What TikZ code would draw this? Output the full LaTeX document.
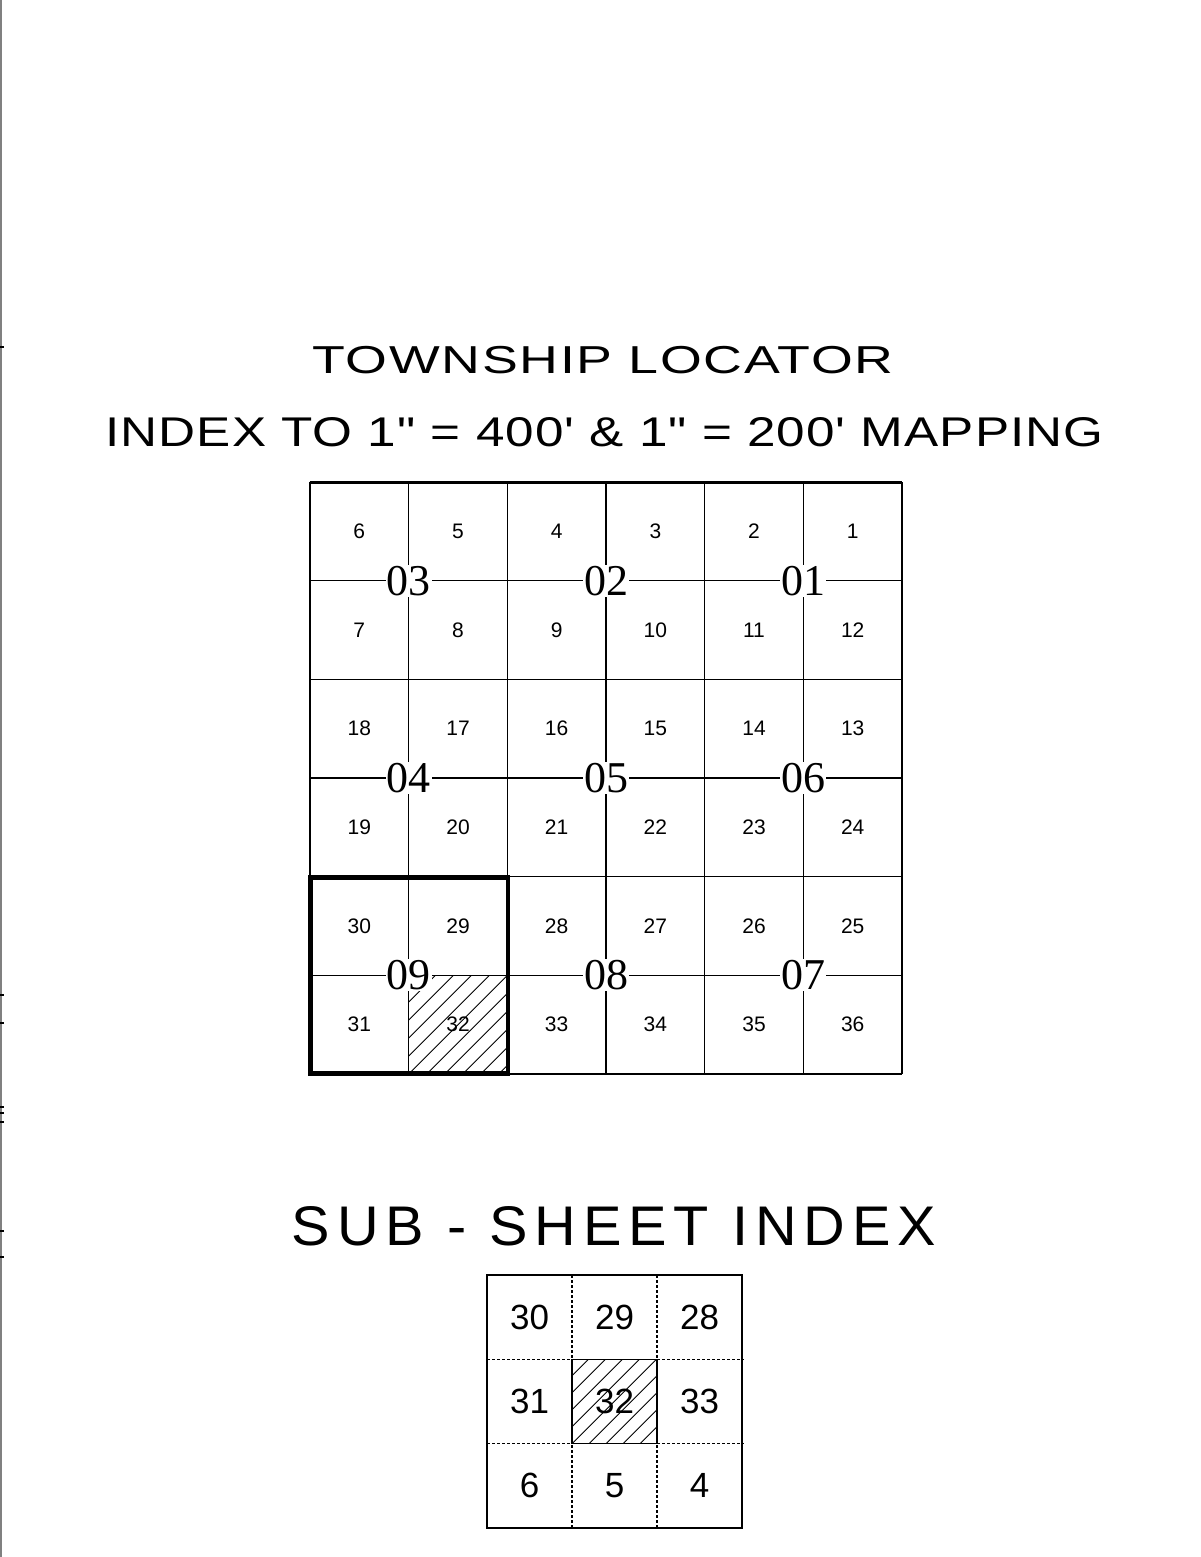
\documentclass[tikz,border=0pt]{standalone}
\usepackage{fontspec}
\usepackage{graphicx}
\newfontfamily\tsans{Liberation Sans}
\newfontfamily\tserif{Liberation Serif}
\begin{document}
\begin{tikzpicture}[x=0.5pt,y=-0.5pt,
  gridline/.style={line width=0.8pt},
  thickline/.style={line width=2.2pt},
  num/.style={font=\tsans\fontsize{10.5}{12}\selectfont, inner sep=0pt},
  subnum/.style={font=\tsans\fontsize{17.5}{20}\selectfont, inner sep=0pt},
  twp/.style={font=\tserif\fontsize{22}{24}\selectfont, fill=white, inner sep=0.5pt},
  hatchline/.style={line width=0.45pt},
  dotline/.style={line width=0.55pt, dash pattern=on 1.5pt off 1pt},
  title/.style={inner sep=0pt}]
\useasboundingbox (0,0) rectangle (1200,1557);
\fill[white] (0,0) rectangle (1200,1557);
% left edge
\draw[gray, line width=1pt] (1,0) -- (1,1557);
\foreach \yy in {347,995,1023,1107,1113,1122,1231,1257}
  \draw[line width=0.8pt] (0,\yy) -- (3.5,\yy);
% titles
\node[title] (t1) at (603,360) {\resizebox{290.5pt}{13.6pt}{\tsans\addfontfeature{LetterSpace=3}TOWNSHIP LOCATOR}};
\node[title] (t2) at (604.5,432.5) {\resizebox{499pt}{14.5pt}{\tsans\addfontfeature{LetterSpace=2}INDEX TO 1" = 400' \& 1" = 200' MAPPING}};
\node[title] (t3) at (614,1226.5) {\resizebox{322pt}{19.5pt}{\tsans\addfontfeature{LetterSpace=12}SUB - SHEET INDEX}};
% main grid
\foreach \i in {0,...,6}{
  \draw[gridline] ({310+\i*98.667},482) -- ({310+\i*98.667},1074);
  \draw[gridline] (310,{482+\i*98.667}) -- (902,{482+\i*98.667});
}
\draw[line width=1.5pt] (309.6,482) -- (902.4,482);
% hatch of section 32
\begin{scope}
  \clip (408.667,975.333) rectangle (507.333,1074);
  \foreach \a in {-108,-90,...,108}
    \draw[hatchline] ({408.667+\a},1074) -- ({408.667+\a+98.667},975.333);
\end{scope}
% section numbers
\foreach \n/\c/\r in {6/0/0,5/1/0,4/2/0,3/3/0,2/4/0,1/5/0,
  7/0/1,8/1/1,9/2/1,10/3/1,11/4/1,12/5/1,
  18/0/2,17/1/2,16/2/2,15/3/2,14/4/2,13/5/2,
  19/0/3,20/1/3,21/2/3,22/3/3,23/4/3,24/5/3,
  30/0/4,29/1/4,28/2/4,27/3/4,26/4/4,25/5/4,
  31/0/5,32/1/5,33/2/5,34/3/5,35/4/5,36/5/5}
  \node[num] (s\n) at ({310+(\c+0.5)*98.667},{482+(\r+0.5)*98.667}) {\n};
% township labels
\foreach \t/\c/\r in {03/1/1,02/3/1,01/5/1,04/1/3,05/3/3,06/5/3,09/1/5,08/3/5,07/5/5}
  \node[twp] (tw\t) at ({310+\c*98.667},{482+\r*98.667}) {\t};
% thick box of township 09
\draw[thickline] (310.5,877.3) rectangle (508,1073.5);
% sub-sheet index
\foreach \i in {1,2}{
  \draw[dotline] ({487+\i*85},1275) -- ({487+\i*85},1528);
  \draw[dotline] (487,{1275+\i*84.333}) -- (744,{1275+\i*84.333});
}
\begin{scope}
  \clip (572,1359.333) rectangle (657,1443.667);
  \foreach \a in {-102,-85,...,102}
    \draw[hatchline] ({572+\a},1443.667) -- ({572+\a+85},1358.667);
\end{scope}
\draw[gridline] (572,1359.333) rectangle (657,1443.667);
\draw[gridline] (487,1275) rectangle (742,1528);
\foreach \n/\c/\r in {30/0/0,29/1/0,28/2/0,31/0/1,32/1/1,33/2/1,6/0/2,5/1/2,4/2/2}
  \node[subnum] (u\n) at ({487+(\c+0.5)*85},{1275+(\r+0.5)*84.333}) {\n};
\end{tikzpicture}
\end{document}
